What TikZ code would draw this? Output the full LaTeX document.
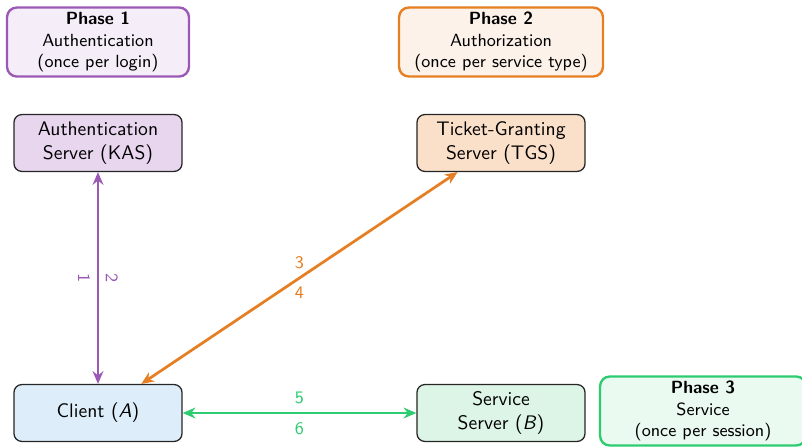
\documentclass[tikz,border=0pt]{standalone}
\usetikzlibrary{arrows.meta}
\renewcommand{\familydefault}{\sfdefault}

\definecolor{authline}{HTML}{9B59B6}
\definecolor{authfill}{HTML}{E8D6EF}
\definecolor{authpale}{HTML}{F5EEF8}
\definecolor{tgsline}{HTML}{E67E22}
\definecolor{tgsfill}{HTML}{FAE0C9}
\definecolor{tgspale}{HTML}{FDF2E9}
\definecolor{svcline}{HTML}{2ECC71}
\definecolor{svcfill}{HTML}{DDF5E6}
\definecolor{svcpale}{HTML}{EAFAF1}
\definecolor{clientfill}{HTML}{DDEEFA}

\tikzset{
  server/.style={draw=black!85, line width=0.65pt, rounded corners=4pt,
    minimum width=85.7pt, minimum height=29pt, align=center, inner sep=2pt},
  phasebox/.style={line width=1.2pt, rounded corners=5pt, minimum height=35.2pt,
    align=center, inner sep=2pt, font=\small},
  link/.style={line width=1.4pt, {Stealth[length=6.5pt,width=5.5pt]}-{Stealth[length=6.5pt,width=5.5pt]}},
  tag/.style={font=\small, inner sep=1pt}
}

\begin{document}
\begin{tikzpicture}[x=0.51pt, y=-0.51pt]
\useasboundingbox (0,0) rectangle (802,447);

% phase captions
\node[phasebox, draw=authline, fill=authpale, minimum width=92.8pt] (p1) at (98,42)
  {\textbf{Phase 1}\\Authentication\\(once per login)};
\node[phasebox, draw=tgsline, fill=tgspale, minimum width=104pt] (p2) at (501,42)
  {\textbf{Phase 2}\\Authorization\\(once per service type)};
\node[phasebox, draw=svcline, fill=svcpale, minimum width=105pt] (p3) at (703,411)
  {\textbf{Phase 3}\\Service\\(once per session)};

% parties
\node[server, fill=authfill] (kas) at (98,143) {Authentication\\Server (KAS)};
\node[server, fill=tgsfill] (tgs) at (501,143) {Ticket-Granting\\Server (TGS)};
\node[server, fill=clientfill] (client) at (98,413) {Client (\textit{A})};
\node[server, fill=svcfill] (svc) at (501,413) {Service\\Server (\textit{B})};

% message exchanges
\draw[link, draw=authline, fill=authline] (kas) -- (client)
  node[tag, midway, xshift=-7.1pt, rotate=-90, text=authline] (m1) {1}
  node[tag, midway, xshift=7.1pt, rotate=-90, text=authline] (m2) {2};
\draw[link, draw=tgsline, fill=tgsline] (tgs) -- (client)
  node[tag, midway, above=3pt, text=tgsline] (m3) {3}
  node[tag, midway, below=3pt, text=tgsline] (m4) {4};
\draw[link, draw=svcline, fill=svcline] (client) -- (svc)
  node[tag, midway, above=3pt, text=svcline] (m5) {5}
  node[tag, midway, below=3pt, text=svcline] (m6) {6};
\end{tikzpicture}
\end{document}
